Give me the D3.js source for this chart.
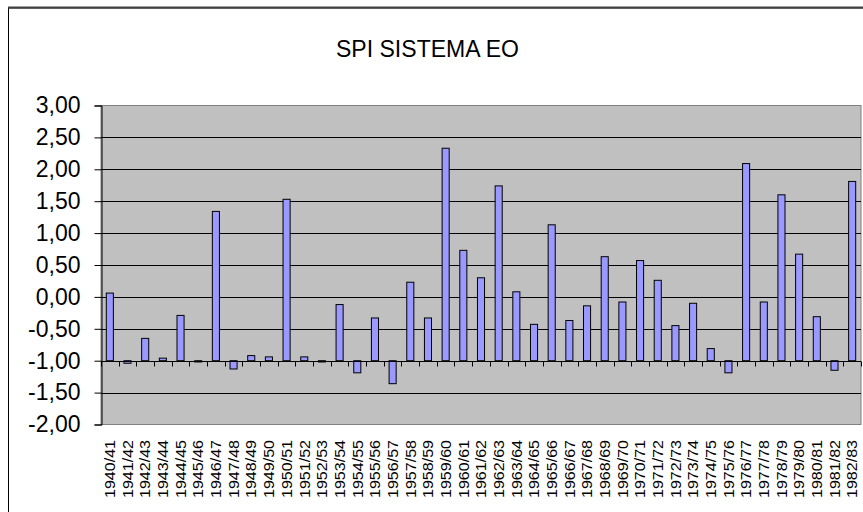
<!DOCTYPE html>
<html>
<head>
<meta charset="utf-8">
<script src="https://cdn.jsdelivr.net/npm/d3@7"></script>
<style>
  body { margin: 0; background: #fff; }
  text { font-family: "Liberation Sans", Arial, sans-serif; fill: #000; }
</style>
</head>
<body>
<div id="chart"></div>
<script>
// SPI values per hydrological year (bars hang from the -1,00 line, Excel style)
const years = ["1940/41","1941/42","1942/43","1943/44","1944/45","1945/46","1946/47","1947/48","1948/49","1949/50",
  "1950/51","1951/52","1952/53","1953/54","1954/55","1955/56","1956/57","1957/58","1958/59","1959/60",
  "1960/61","1961/62","1962/63","1963/64","1964/65","1965/66","1966/67","1967/68","1968/69","1969/70",
  "1970/71","1971/72","1972/73","1973/74","1974/75","1975/76","1976/77","1977/78","1978/79","1979/80",
  "1980/81","1981/82","1982/83"];
const spi = [0.06, -1.04, -0.65, -0.96, -0.29, -1.02, 1.34, -1.13, -0.92, -0.94,
  1.53, -0.94, -1.02, -0.12, -1.19, -0.33, -1.36, 0.23, -0.33, 2.33,
  0.73, 0.30, 1.74, 0.08, -0.43, 1.13, -0.37, -0.14, 0.63, -0.08,
  0.57, 0.26, -0.45, -0.10, -0.81, -1.19, 2.09, -0.08, 1.60, 0.67,
  -0.31, -1.15, 1.81];
const yTicks = [-2, -1.5, -1, -0.5, 0, 0.5, 1, 1.5, 2, 2.5, 3];
const baseline = -1;
const title = "SPI SISTEMA EO";

const svgWidth = 863, svgHeight = 512;
const plot = { left: 101, right: 861, top: 105.5, bottom: 424.5 };

const svg = d3.select("#chart").append("svg")
  .attr("width", svgWidth)
  .attr("height", svgHeight);

// outer chart frame (cropped at right/bottom)
svg.append("rect")
  .attr("x", 8.5).attr("y", 8)
  .attr("width", 900).attr("height", 600)
  .attr("fill", "#fff")
  .attr("stroke", "#000");
svg.append("line")
  .attr("x1", 8).attr("x2", svgWidth)
  .attr("y1", 7.5).attr("y2", 7.5)
  .attr("stroke", "#404040").attr("stroke-width", 2);

// title (Excel renders it narrow, so squeeze to measured width)
svg.append("text")
  .attr("x", 336).attr("y", 57)
  .attr("textLength", 183)
  .attr("lengthAdjust", "spacingAndGlyphs")
  .style("font-size", "24px")
  .text(title);

const x = d3.scaleBand().domain(years).range([plot.left, plot.right]).padding(0);
const y = d3.scaleLinear().domain([-2, 3]).range([plot.bottom, plot.top]);

// plot area
svg.append("rect")
  .attr("x", plot.left).attr("y", plot.top)
  .attr("width", plot.right - plot.left).attr("height", plot.bottom - plot.top)
  .attr("fill", "#c0c0c0")
  .attr("stroke", "#808080");

// gridlines
svg.append("g").selectAll("line")
  .data(yTicks.filter(d => d > -2 && d < 3))
  .join("line")
  .attr("x1", plot.left).attr("x2", plot.right)
  .attr("y1", d => Math.round(y(d)) + 0.5).attr("y2", d => Math.round(y(d)) + 0.5)
  .attr("stroke", "#000");

// y axis
const yAxis = svg.append("g")
  .attr("transform", `translate(${plot.left + 0.5},0)`)
  .attr("font-size", 23)
  .attr("font-family", "'Liberation Sans', Arial, sans-serif")
  .call(d3.axisLeft(y).tickValues(yTicks).tickSize(7).tickPadding(14)
    .tickFormat(d => d3.format(".2f")(d).replace(".", ",").replace("\u2212", "-")));
yAxis.select(".domain").attr("stroke", "#000");
yAxis.selectAll(".tick line").attr("stroke", "#000");
yAxis.selectAll(".tick text").style("font-size", "23px").attr("fill", "#000");

// bars
const barW = x.bandwidth() / 2.5;
svg.append("g").selectAll("rect")
  .data(years.map((c, i) => ({ c, v: spi[i] })))
  .join("rect")
  .attr("x", d => x(d.c) + (x.bandwidth() - barW) / 2)
  .attr("y", d => y(Math.max(d.v, baseline)))
  .attr("width", barW)
  .attr("height", d => Math.abs(y(d.v) - y(baseline)))
  .attr("fill", "#9999ff")
  .attr("stroke", "#000");

// category axis at -1,00
const yb = Math.round(y(baseline)) + 0.5;
svg.append("line")
  .attr("x1", plot.left).attr("x2", plot.right)
  .attr("y1", yb).attr("y2", yb)
  .attr("stroke", "#000");
svg.append("g").selectAll("line")
  .data(years.concat(["end"]))
  .join("line")
  .attr("x1", (d, i) => Math.round(plot.left + i * x.step()) + 0.5)
  .attr("x2", (d, i) => Math.round(plot.left + i * x.step()) + 0.5)
  .attr("y1", yb).attr("y2", yb + 5)
  .attr("stroke", "#000");

// category labels below plot (stretched along the text like Excel output)
svg.append("g").selectAll("text")
  .data(years)
  .join("text")
  .attr("transform", d => `translate(${x(d) + x.bandwidth() / 2},498) rotate(-90)`)
  .attr("dy", "0.35em")
  .attr("textLength", 58)
  .attr("lengthAdjust", "spacingAndGlyphs")
  .style("font-size", "15px")
  .text(d => d);
</script>
</body>
</html>
